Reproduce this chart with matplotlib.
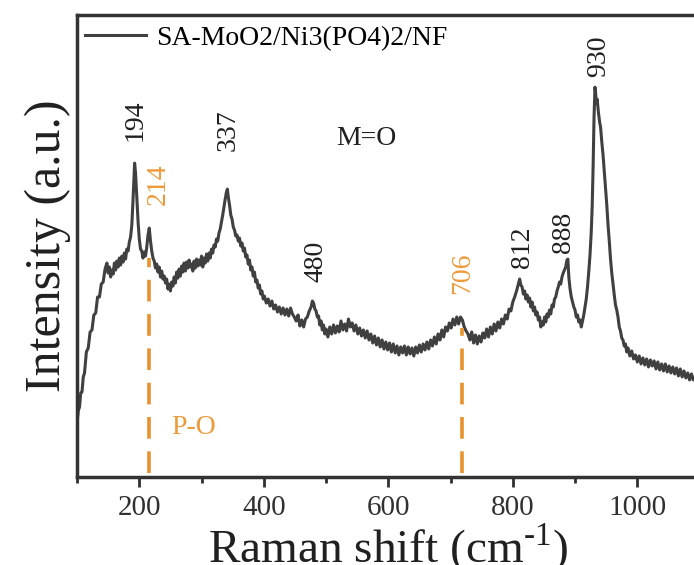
import matplotlib
matplotlib.use("Agg")
import matplotlib.pyplot as plt
from matplotlib.ticker import MultipleLocator, NullLocator

plt.rcParams['font.family'] = ['Liberation Serif', 'DejaVu Serif']
plt.rcParams['mathtext.fontset'] = 'custom'
plt.rcParams['mathtext.rm'] = 'Liberation Serif'

# spectrum (Raman shift, intensity in a.u.)
raman_shift = [100, 102, 104, 106, 108, 110, 112, 115, 118, 121, 124, 127, 130, 133, 136, 139, 142, 145, 148, 150,
               152, 154, 156, 158, 160, 162, 164, 166, 168, 170, 172, 174, 176, 178, 180, 182, 184, 186, 188, 190,
               192.5, 194, 196, 198, 200, 202, 204, 206, 208, 210, 212, 214, 216, 218, 220, 222, 224, 226, 228, 230,
               232, 234, 236, 238, 240, 242, 244, 246, 248, 250, 252, 254, 256, 258, 260, 262, 264, 266, 268, 270,
               272, 274, 276, 278, 280, 282, 284, 286, 288, 290, 292, 294, 296, 298, 300, 302, 304, 306, 308, 310,
               312, 314, 316, 318, 320, 322, 324, 326, 328, 330, 332, 334, 336, 338, 340, 341.5, 343, 345, 347, 349,
               351, 353, 355, 357, 359, 361, 363, 365, 367, 369, 371, 373, 375, 377, 379, 381, 383, 385, 387, 389,
               391, 393, 395, 397, 399, 401, 404, 407, 410, 413, 416, 419, 422, 425, 428, 431, 434, 437, 440, 443,
               446, 449, 452, 455, 458, 461, 464, 467, 470, 473, 476, 478, 480, 482, 484, 486, 488, 490, 492, 494,
               496, 498, 500, 503, 506, 509, 512, 515, 518, 521, 524, 527, 530, 533, 536, 539, 542, 545, 548, 551,
               554, 557, 560, 563, 566, 569, 572, 575, 578, 581, 584, 587, 590, 593, 596, 599, 602, 605, 608, 611,
               614, 617, 620, 623, 626, 629, 632, 635, 638, 641, 644, 647, 650, 653, 656, 659, 662, 665, 668, 671,
               674, 677, 680, 683, 686, 689, 692, 695, 698, 701, 704, 707, 710, 713, 716, 719, 722, 725, 728, 731,
               734, 737, 740, 743, 746, 749, 752, 755, 758, 761, 764, 767, 770, 773, 776, 779, 782, 785, 788, 791,
               794, 797, 800, 803, 806, 809, 811, 813, 815, 817, 819, 821, 823, 825, 827, 829, 831, 833, 835, 837,
               839, 841, 843, 845, 847, 849, 851, 853, 855, 857, 859, 861, 863, 865, 867, 869, 871, 873, 875, 877,
               879, 881, 883, 885, 887, 888.5, 890, 892, 894, 896, 898, 900, 902, 904, 906, 908, 910, 912, 914, 916,
               918, 920, 922, 924, 926, 927.5, 929, 930.5, 932, 933, 934, 935.5, 937.5, 939.5, 941, 943, 945, 947, 949, 951,
               953, 955, 957, 959, 961, 963, 965, 967, 969, 971, 973, 975, 977, 979, 981, 983, 985, 988, 991, 994,
               997, 1000, 1003, 1006, 1009, 1012, 1015, 1018, 1021, 1024, 1027, 1030, 1033, 1036, 1039, 1042, 1045, 1048, 1051, 1054,
               1057, 1060, 1063, 1066, 1069, 1072, 1075, 1078, 1081, 1084, 1087, 1090, 1093]
intensity = [54, 66, 70, 84, 85, 100, 104, 125, 129, 145, 147, 162, 164, 180, 180, 193, 195, 208, 214, 204,
             210, 200, 207, 203, 214, 207, 216, 210, 219, 212, 221, 215, 224, 218, 228, 226, 235, 240, 252, 278,
             314, 304, 280, 256, 238, 228, 226, 219, 225, 221, 230, 242, 249, 236, 226, 219, 216, 209, 213, 205,
             210, 200, 206, 198, 201, 194, 198, 188, 193, 186, 195, 191, 200, 194, 205, 199, 208, 201, 211, 205,
             214, 206, 215, 209, 217, 210, 213, 206, 216, 209, 218, 211, 217, 212, 221, 210, 219, 214, 223, 216,
             224, 219, 228, 224, 232, 230, 238, 236, 244, 248, 255, 262, 270, 278, 285, 288, 280, 272, 262, 258,
             250, 247, 241, 242, 236, 239, 231, 234, 226, 229, 220, 222, 213, 217, 207, 210, 201, 205, 195, 197,
             189, 192, 183, 186, 178, 181, 174, 178, 171, 176, 168, 172, 165, 170, 163, 169, 162, 168, 161, 169,
             163, 160, 156, 162, 151, 157, 150, 158, 160, 166, 170, 176, 174, 168, 166, 160, 161, 152, 156, 147,
             152, 143, 148, 140, 150, 143, 152, 144, 151, 145, 156, 147, 153, 146, 158, 150, 154, 146, 152, 143,
             149, 141, 147, 139, 146, 137, 143, 134, 141, 132, 139, 130, 137, 128, 135, 127, 134, 125, 133, 124,
             131, 122, 130, 124, 131, 122, 130, 123, 129, 121, 130, 124, 132, 125, 133, 127, 135, 128, 137, 131,
             140, 133, 143, 137, 147, 140, 150, 146, 154, 149, 158, 152, 160, 153, 160, 157, 150, 146, 143, 137,
             145, 134, 142, 133, 141, 135, 144, 139, 148, 140, 150, 143, 153, 146, 155, 149, 158, 153, 162, 158,
             168, 166, 175, 180, 186, 193, 198, 192, 190, 183, 186, 178, 182, 175, 179, 170, 175, 166, 170, 162,
             165, 157, 160, 150, 155, 152, 160, 155, 163, 160, 167, 163, 172, 170, 178, 180, 186, 190, 195, 193,
             200, 204, 207, 210, 217, 218, 200, 188, 180, 175, 170, 167, 160, 162, 155, 157, 150, 156, 162, 170,
             178, 190, 205, 222, 245, 270, 310, 360, 390, 385, 374, 378, 365, 355, 350, 335, 322, 305, 288, 272,
             252, 236, 218, 204, 193, 182, 172, 167, 160, 150, 146, 139, 137, 131, 133, 125, 129, 121, 126, 118,
             122, 115, 121, 113, 119, 112, 118, 110, 117, 111, 116, 108, 115, 107, 113, 106, 113, 105, 111, 104,
             110, 103, 109, 101, 108, 100, 106, 99, 104, 97, 103, 97, 100]

# peak labels
peak_labels = ["194", "337", "480", "812", "888", "930"]
peak_x = [193, 343, 484, 816, 882, 938]
peak_y = [357, 347, 216, 230, 245, 421]
po_labels = ["214", "706"]
po_x = [231, 719]
po_y = [293, 204]
po_lines = [216, 719]
po_line_top = [219, 149]

line_color = '#404040'
orange = '#EE9A3A'

fig = plt.figure(figsize=(6.94, 5.65), dpi=100)
ax = fig.add_axes([0.111, 0.156, 0.897, 0.817])

ax.plot(raman_shift, intensity, color=line_color, lw=2.2, label='SA-MoO2/Ni3(PO4)2/NF')

for xv, top in zip(po_lines, po_line_top):
    ax.plot([xv, xv], [4, top], color='#E8922E', lw=2.6, linestyle=(0, (6, 3.5)))

for t, xv, yv in zip(peak_labels, peak_x, peak_y):
    ax.text(xv, yv, t, rotation=90, ha='center', va='center', fontsize=20, color='#202020')
for t, xv, yv in zip(po_labels, po_x, po_y):
    ax.text(xv, yv, t, rotation=90, ha='center', va='center', fontsize=20, color=orange)

ax.text(565, 339, 'M=O', ha='center', va='center', fontsize=20, color='#202020')
ax.text(252, 49, 'P-O', ha='left', va='center', fontsize=20, color=orange)

ax.set_xlim(100, 1100)
ax.set_ylim(0, 462)
ax.xaxis.set_major_locator(MultipleLocator(200))
ax.xaxis.set_minor_locator(MultipleLocator(100))
ax.yaxis.set_major_locator(NullLocator())
ax.tick_params(axis='x', which='major', direction='out', length=7, width=2, labelsize=21, pad=6, colors='#303030')
ax.tick_params(axis='x', which='minor', direction='out', length=4, width=2, colors='#303030')

for s in ['left', 'bottom', 'top']:
    ax.spines[s].set_linewidth(2.5)
    ax.spines[s].set_color('#333333')
ax.spines['right'].set_visible(False)

ax.set_xlabel('Raman shift (cm$^{\\text{-}1}$)', fontsize=34, color='#202020', labelpad=0)
ax.set_ylabel('Intensity (a.u.)', fontsize=36, color='#202020', labelpad=4)

ax.legend(loc='center left', bbox_to_anchor=(0.013, 0.95), frameon=False, fontsize=20,
          handlelength=2.2, handletextpad=0.35, borderpad=0, borderaxespad=0)

fig.savefig('out.png', dpi=100)
